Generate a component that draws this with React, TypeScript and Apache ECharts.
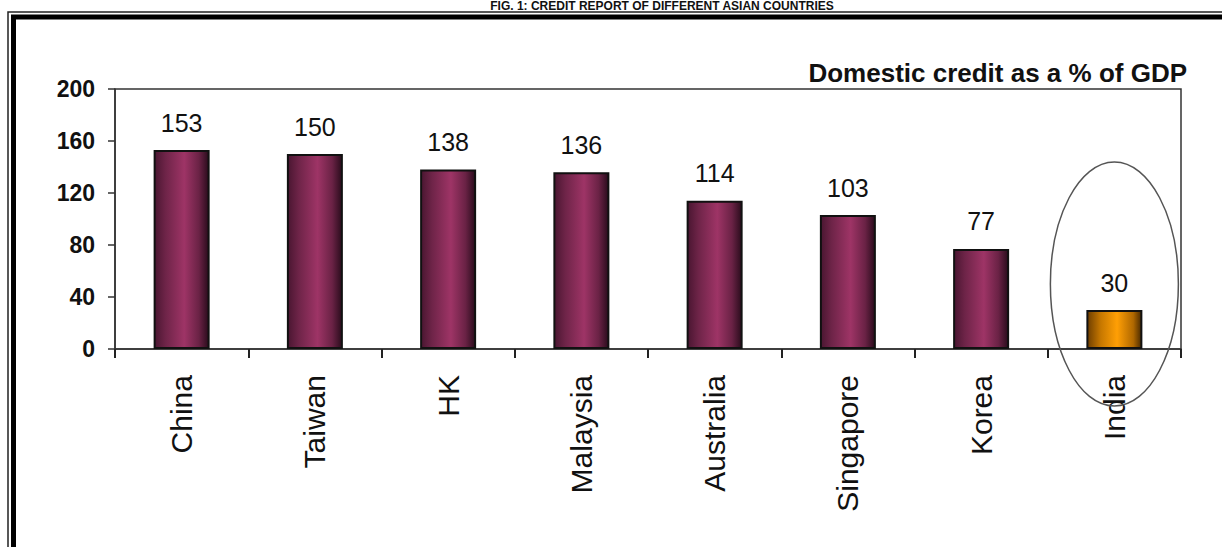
import React, { useEffect, useRef } from "react";
import * as echarts from "echarts";

const categories = ["China", "Taiwan", "HK", "Malaysia", "Australia", "Singapore", "Korea", "India"];
const values = [153, 150, 138, 136, 114, 103, 77, 30];
const highlighted = ["India"];
const yTicks = { min: 0, max: 200, interval: 40 };
const chartTitle = "Domestic credit as a % of GDP";
const figCaption = "FIG. 1: CREDIT REPORT OF DIFFERENT ASIAN COUNTRIES";

const FONT = "'Liberation Sans', Arial, sans-serif";

const purple = () =>
  new echarts.graphic.LinearGradient(0, 0, 1, 0, [
    { offset: 0, color: "#4a1631" },
    { offset: 0.2, color: "#6e2448" },
    { offset: 0.55, color: "#9e3466" },
    { offset: 0.82, color: "#6a2245" },
    { offset: 1, color: "#2a0c1c" },
  ]);
const orange = () =>
  new echarts.graphic.LinearGradient(0, 0, 1, 0, [
    { offset: 0, color: "#6e3e00" },
    { offset: 0.25, color: "#c77800" },
    { offset: 0.55, color: "#ff9f05" },
    { offset: 0.85, color: "#b06800" },
    { offset: 1, color: "#4a2a00" },
  ]);

export default function App() {
  const ref = useRef<HTMLDivElement>(null);
  useEffect(() => {
    document.body.style.margin = "0";
    const chart = echarts.init(ref.current!, null, { renderer: "svg" });
    const frame = [
      { type: "rect", shape: { x: 8, y: 12, width: 1300, height: 600 }, style: { fill: "none", stroke: "#222", lineWidth: 1.5 }, silent: true },
      { type: "rect", shape: { x: 13.5, y: 17, width: 1300, height: 600 }, style: { fill: "none", stroke: "#000", lineWidth: 5 }, silent: true },
      {
        type: "text",
        x: 662,
        y: 0,
        style: { text: figCaption, fill: "#111", font: `bold 12px 'Liberation Sans Narrow', 'Liberation Sans', sans-serif`, textAlign: "center", textVerticalAlign: "top" },
      },
      {
        type: "text",
        x: 1187,
        y: 73,
        style: { text: chartTitle, fill: "#111", font: `bold 26px ${FONT}`, textAlign: "right", textVerticalAlign: "middle" },
      },
    ];
    chart.setOption({
      animation: false,
      backgroundColor: "#fff",
      grid: { left: 115, right: 41, top: 89, bottom: 198, show: true, borderColor: "#333", borderWidth: 1.5 },
      xAxis: {
        type: "category",
        data: categories,
        axisLine: { lineStyle: { color: "#333", width: 1.5 } },
        axisTick: { show: true, length: 9, lineStyle: { color: "#222", width: 2 } },
        axisLabel: { rotate: 90, fontSize: 30, color: "#111", fontFamily: FONT, margin: 26 },
      },
      yAxis: {
        type: "value",
        min: yTicks.min,
        max: yTicks.max,
        interval: yTicks.interval,
        splitLine: { show: false },
        axisLine: { show: true, lineStyle: { color: "#333", width: 1.5 } },
        axisTick: { show: true, length: 7, lineStyle: { color: "#333", width: 1.5 } },
        axisLabel: { fontSize: 23, fontWeight: "bold", color: "#111", fontFamily: FONT, margin: 20 },
      },
      series: [
        {
          type: "bar",
          barWidth: 56,
          data: values.map((v, i) => ({
            value: v,
            itemStyle: {
              color: highlighted.includes(categories[i]) ? orange() : purple(),
              borderColor: "#111",
              borderWidth: 2,
            },
          })),
          label: { show: true, position: "top", distance: 15, fontSize: 25, color: "#111", fontFamily: FONT },
        },
      ],
      graphic: frame,
    });
    const cx = chart.convertToPixel({ xAxisIndex: 0 }, "India") as number;
    const cy = chart.convertToPixel({ yAxisIndex: 0 }, 50) as number;
    chart.setOption({
      graphic: [
        ...frame,
        {
          type: "ellipse",
          shape: { cx, cy, rx: 64, ry: 122 },
          style: { fill: "none", stroke: "#555", lineWidth: 1.5 },
          z: 10,
          silent: true,
        },
      ],
    });
    return () => chart.dispose();
  }, []);
  return <div ref={ref} style={{ width: 1222, height: 547 }} />;
}
